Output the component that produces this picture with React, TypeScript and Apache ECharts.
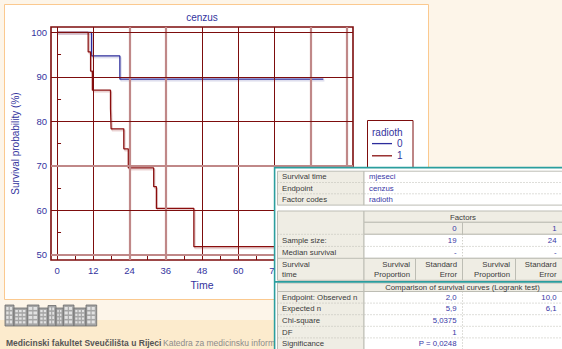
import React, { useEffect, useRef } from 'react';
import * as echarts from 'echarts';

// ---- Kaplan-Meier curves (time in months, survival in %) ----
const groupNames = ['0', '1'];
const timesRadioth0 = [0, 11.4, 20.8, 88.2];
const survivalRadioth0 = [100, 94.7, 89.5, 89.5];
const timesRadioth1 = [0, 10.3, 11.1, 11.7, 17.7, 17.9, 22.1, 23.6, 32.0, 32.9, 45.3, 90];
const survivalRadioth1 = [100, 95.6, 91.3, 87.0, 82.8, 78.3, 73.8, 69.5, 65.3, 60.4, 51.8, 51.8];

// ---- axis ticks ----
const timeGrid = [0, 12, 24, 36, 48, 60, 72, 84, 96];
const timeLabels = [0, 12, 24, 36, 48, 60, 72];
const timeMinorTicks = [6, 18, 30, 42, 54, 66, 78, 90];
const survivalTicks = [50, 60, 70, 80, 90, 100];
const survivalMinorTicks = [55, 65, 75, 85, 95];
const heavyTimeLines = [24, 36, 84, 96];
const heavySurvivalLines = [50, 70];

// ---- summary table ----
const infoLabels = ['Survival time', 'Endpoint', 'Factor codes'];
const infoValues = ['mjeseci', 'cenzus', 'radioth'];
const factorLevels = ['0', '1'];
const sampleSizes = ['19', '24'];
const medianSurvival = ['-', '-'];
const logrankLabels = ['Endpoint: Observed n', 'Expected n', 'Chi-square', 'DF', 'Significance'];
const observedN = ['2,0', '10,0'];
const expectedN = ['5,9', '6,1'];
const chiSquare = '5,0375';
const degreesOfFreedom = '1';
const significance = 'P = 0,0248';

const FONT = '"Liberation Sans", Arial, Helvetica, sans-serif';
const BLUE_TEXT = '#34349e';
const DARK = '#7d0d0d';
const ROSE = '#c08888';
const RED_LINE = '#8a1010';
const BLUE_LINE = '#2c2c9c';
const TEAL = '#2b9e9e';
const BEIGE = '#efede4';
const CELL_LINE = '#bdbdb4';
const LABEL_TEXT = '#3a3a3a';
const VALUE_TEXT = '#3838a6';

function buildTable(): any[] {
  const els: any[] = [];
  const Z = 30;
  const box = (x: number, y: number, w: number, h: number, fill: string) =>
    els.push({ type: 'rect', z: Z, silent: true, shape: { x, y, width: w, height: h }, style: { fill, stroke: CELL_LINE, lineWidth: 1 } });
  const seg = (x1: number, y1: number, x2: number, y2: number, dashed = true, color = CELL_LINE, width = 1) =>
    els.push({ type: 'line', z: Z + 1, silent: true, shape: { x1, y1, x2, y2 }, style: { stroke: color, lineWidth: width, lineDash: dashed ? [1, 2] : null } });
  const txt = (s: string, x: number, y: number, align: string, color: string) =>
    els.push({ type: 'text', z: Z + 2, silent: true, style: { text: s, x, y, textAlign: align, textVerticalAlign: 'middle', fill: color, font: `7.8px ${FONT}` } });

  const L = 277.5, V = 364, C1 = 462.5, S0 = 415.5, S1 = 515.5, R = 564;
  const labelW = V - L;

  // panel
  els.push({ type: 'rect', z: Z - 1, silent: true, shape: { x: 274, y: 167, width: 290, height: 184 }, style: { fill: '#ffffff' } });

  // block 1: run settings
  const b1 = [171.2, 182.5, 193.8, 205.1];
  box(L, b1[0], labelW, b1[3] - b1[0], BEIGE);
  box(V, b1[0], R - V, b1[3] - b1[0], '#ffffff');
  seg(L, b1[1], R, b1[1]);
  seg(L, b1[2], R, b1[2]);
  infoLabels.forEach((s, i) => {
    const cy = (b1[i] + b1[i + 1]) / 2;
    txt(s, 282, cy, 'left', LABEL_TEXT);
    txt(infoValues[i], 369, cy, 'left', VALUE_TEXT);
  });

  // block 2: factors
  box(L, 211, labelW, 69.3, BEIGE);
  box(V, 211, R - V, 11.3, BEIGE);
  box(V, 222.3, C1 - V, 12, BEIGE);
  box(C1, 222.3, R - C1, 12, BEIGE);
  box(V, 234.3, R - V, 24, '#ffffff');
  seg(L, 234.3, V, 234.3);
  seg(L, 246.4, R, 246.4);
  seg(C1, 234.3, C1, 258.3);
  box(V, 258.3, S0 - V, 22, BEIGE);
  box(S0, 258.3, C1 - S0, 22, BEIGE);
  box(C1, 258.3, S1 - C1, 22, BEIGE);
  box(S1, 258.3, R - S1, 22, BEIGE);
  seg(L, 258.3, V, 258.3, false);
  txt('Factors', 463, 217.2, 'center', LABEL_TEXT);
  txt(factorLevels[0], 456.5, 228.6, 'right', VALUE_TEXT);
  txt(factorLevels[1], 556.5, 228.6, 'right', VALUE_TEXT);
  txt('Sample size:', 282, 240.6, 'left', LABEL_TEXT);
  txt(sampleSizes[0], 456.5, 240.6, 'right', VALUE_TEXT);
  txt(sampleSizes[1], 556.5, 240.6, 'right', VALUE_TEXT);
  txt('Median survival', 282, 252.5, 'left', LABEL_TEXT);
  txt(medianSurvival[0], 456.5, 252.5, 'right', VALUE_TEXT);
  txt(medianSurvival[1], 556.5, 252.5, 'right', VALUE_TEXT);
  txt('Survival', 282, 264.3, 'left', LABEL_TEXT);
  txt('time', 282, 274, 'left', LABEL_TEXT);
  [[410, 'Survival', 'Proportion'], [457, 'Standard', 'Error'], [510, 'Survival', 'Proportion'], [556.5, 'Standard', 'Error']].forEach(
    ([x, a, b]) => {
      txt(a as string, x as number, 264.3, 'right', LABEL_TEXT);
      txt(b as string, x as number, 274, 'right', LABEL_TEXT);
    }
  );

  // block 3: logrank comparison
  box(L, 283, labelW, 8.5, BEIGE);
  box(V, 283, R - V, 8.5, BEIGE);
  txt('Comparison of survival curves (Logrank test)', 462.5, 287.2, 'center', LABEL_TEXT);
  const b3 = [291.5, 303.1, 314.7, 326.3, 337.9, 349.5];
  box(L, b3[0], labelW, 60, BEIGE);
  box(V, b3[0], R - V, 60, '#ffffff');
  for (let i = 1; i < b3.length - 1; i++) seg(L, b3[i], R, b3[i]);
  seg(C1, b3[0], C1, 351);
  const col0 = [observedN[0], expectedN[0], chiSquare, degreesOfFreedom, significance];
  const col1 = [observedN[1], expectedN[1], '', '', ''];
  logrankLabels.forEach((s, i) => {
    const cy = (b3[i] + b3[i + 1]) / 2;
    txt(s, 282, cy, 'left', LABEL_TEXT);
    if (col0[i]) txt(col0[i], 456.5, cy, 'right', VALUE_TEXT);
    if (col1[i]) txt(col1[i], 556.5, cy, 'right', VALUE_TEXT);
  });

  // teal frame of the panel
  seg(274.6, 167, 274.6, 351, false, TEAL, 1.6);
  seg(274, 167.6, 564, 167.6, false, TEAL, 1.6);
  seg(274, 281.9, 564, 281.9, false, TEAL, 1.6);
  return els;
}

function buildLogo(): any[] {
  const els: any[] = [];
  const blocks = [
    [5, 305, 9, 21, 2],
    [14, 308, 13.3, 18, 3],
    [27.3, 305, 11.7, 21, 2],
    [39, 308, 9, 18, 2],
    [48, 305.5, 8, 20.5, 2],
    [56, 308, 7.3, 18, 2],
    [63.3, 305, 10.7, 21, 2],
    [74, 308, 12, 18, 3],
    [86, 305, 10.7, 21, 2],
  ];
  blocks.forEach(([x, y, w, h, cols]) => {
    els.push({ type: 'rect', z: 1, silent: true, shape: { x, y, width: w, height: h }, style: { fill: '#a6a6a6', stroke: '#6c6c6c', lineWidth: 0.8 } });
    const cw = (w - 2) / cols;
    for (let r = 0; r < 4; r++) {
      for (let c = 0; c < cols; c++) {
        els.push({
          type: 'rect', z: 2, silent: true,
          shape: { x: x + 1.3 + c * cw, y: y + 2 + r * (h - 3) / 4, width: cw - 1.2, height: (h - 3) / 4 - 1.6 },
          style: { fill: '#e2e2e2' },
        });
      }
    }
  });
  return els;
}

function kmSeries(name: string, times: number[], values: number[], color: string, shadow: string) {
  return {
    type: 'line',
    name,
    step: 'end',
    symbol: 'none',
    showSymbol: false,
    silent: true,
    z: 3,
    data: times.map((t, i) => [t, values[i]]),
    itemStyle: { color },
    lineStyle: { color, width: 1.25, shadowColor: shadow, shadowOffsetX: 1, shadowOffsetY: 1.5, shadowBlur: 0 },
  };
}

export default function App() {
  const ref = useRef<HTMLDivElement>(null);

  useEffect(() => {
    const chart = echarts.init(ref.current!, null, { renderer: 'svg' });

    const gridLines = [
      ...timeGrid.map((v) => ({
        xAxis: v,
        lineStyle: heavyTimeLines.includes(v) ? { color: ROSE, width: 2.2, type: 'solid' } : { color: DARK, width: 1, type: 'solid' },
      })),
      ...survivalTicks.map((v) => ({
        yAxis: v,
        lineStyle: heavySurvivalLines.includes(v) ? { color: ROSE, width: 2.2, type: 'solid' } : { color: DARK, width: 1, type: 'solid' },
      })),
    ];

    const option: any = {
      animation: false,
      backgroundColor: '#fdf5e9',
      grid: {
        show: true,
        left: 51,
        right: 209,
        top: 27,
        bottom: 89,
        borderColor: DARK,
        borderWidth: 1.6,
        backgroundColor: 'transparent',
        containLabel: false,
      },
      xAxis: {
        type: 'value',
        min: -2,
        max: 98,
        name: 'Time',
        nameLocation: 'middle',
        nameGap: 17,
        nameTextStyle: { color: BLUE_TEXT, fontSize: 10.5, fontFamily: FONT },
        axisLine: { show: false },
        axisTick: { show: true, inside: true, length: 4, customValues: timeMinorTicks, lineStyle: { color: DARK, width: 1 } },
        axisLabel: { customValues: timeLabels, color: BLUE_TEXT, fontSize: 9.5, fontFamily: FONT, margin: 5 },
        splitLine: { show: false },
      },
      yAxis: {
        type: 'value',
        min: 48.8,
        max: 101.2,
        name: 'Survival probability (%)',
        nameLocation: 'middle',
        nameGap: 29,
        nameTextStyle: { color: BLUE_TEXT, fontSize: 10, fontFamily: FONT },
        axisLine: { show: false },
        axisTick: { show: true, inside: true, length: 4, customValues: survivalMinorTicks, lineStyle: { color: DARK, width: 1 } },
        axisLabel: { customValues: survivalTicks, color: BLUE_TEXT, fontSize: 9.5, fontFamily: FONT, margin: 4 },
        splitLine: { show: false },
      },
      legend: {
        data: groupNames,
        orient: 'vertical',
        left: 372,
        top: 138.6,
        padding: 0,
        icon: 'rect',
        itemWidth: 20,
        itemHeight: 1.3,
        itemGap: 2.2,
        selectedMode: false,
        itemStyle: { shadowColor: 'transparent', shadowOffsetX: 0, shadowOffsetY: 0 },
        textStyle: { color: BLUE_TEXT, fontSize: 10, fontFamily: FONT },
        z: 6,
      },
      series: [
        {
          type: 'line',
          name: 'grid',
          data: [],
          z: 1,
          silent: true,
          markLine: {
            silent: true,
            symbol: ['none', 'none'],
            label: { show: false },
            emphasis: { disabled: true },
            animation: false,
            data: gridLines,
          },
        },
        kmSeries(groupNames[0], timesRadioth0, survivalRadioth0, BLUE_LINE, 'rgba(70,70,160,0.28)'),
        kmSeries(groupNames[1], timesRadioth1, survivalRadioth1, RED_LINE, 'rgba(150,40,40,0.33)'),
      ],
      graphic: [
        // page panel and footer band
        { type: 'rect', z: -10, silent: true, shape: { x: 4.5, y: 4.5, width: 424, height: 295 }, style: { fill: '#ffffff', stroke: '#fbc98f', lineWidth: 1 } },
        { type: 'rect', z: -10, silent: true, shape: { x: 0, y: 320, width: 562, height: 29 }, style: { fill: '#fcebcd' } },
        ...buildLogo(),
        {
          type: 'text', z: 2, silent: true,
          style: { text: 'Medicinski fakultet Sveučilišta u Rijeci', x: 6, y: 342.5, textVerticalAlign: 'middle', fill: '#555555', font: `bold 8.5px ${FONT}` },
        },
        {
          type: 'text', z: 2, silent: true,
          style: {
            text: 'Katedra za medicinsku informatiku', x: 163, y: 342.5, width: 116, overflow: 'truncate', ellipsis: '',
            textVerticalAlign: 'middle', fill: '#8c8c8c', font: `8.5px ${FONT}`,
          },
        },
        // chart title
        {
          type: 'text', z: 5, silent: true,
          style: { text: 'cenzus', x: 202, y: 17.5, textAlign: 'center', textVerticalAlign: 'middle', fill: BLUE_TEXT, font: `10px ${FONT}` },
        },
        // legend frame and heading
        { type: 'rect', z: 5, silent: true, shape: { x: 367.5, y: 120.5, width: 45.5, height: 60 }, style: { fill: '#ffffff', stroke: DARK, lineWidth: 1 } },
        {
          type: 'text', z: 6, silent: true,
          style: { text: 'radioth', x: 372, y: 132, textVerticalAlign: 'middle', fill: BLUE_TEXT, font: `10px ${FONT}` },
        },
        ...buildTable(),
      ],
    };

    chart.setOption(option);
    return () => chart.dispose();
  }, []);

  return <div ref={ref} style={{ position: 'fixed', left: 0, top: 0, width: 562, height: 349 }} />;
}
